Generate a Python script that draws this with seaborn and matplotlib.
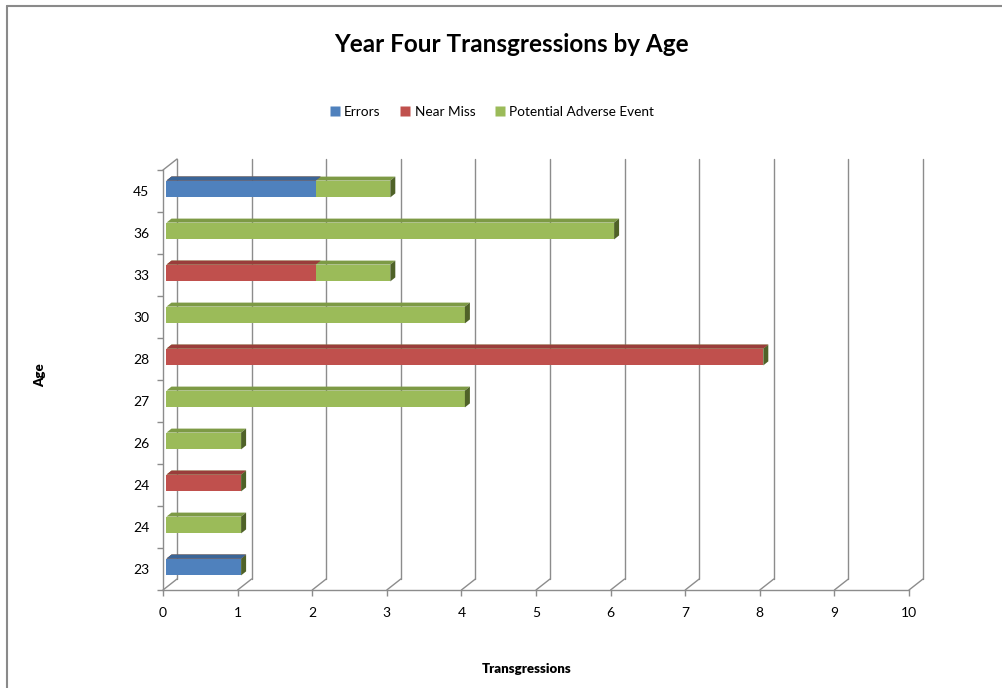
import numpy as np
import pandas as pd
import matplotlib
matplotlib.use("Agg")
import matplotlib.pyplot as plt
import seaborn as sns
from matplotlib.patches import Polygon
from matplotlib.lines import Line2D

# ---------------- data (top to bottom as displayed) ----------------
ages = ["45", "36", "33", "30", "28", "27", "26", "24", "24", "23"]
errors = [2, 0, 0, 0, 0, 0, 0, 0, 0, 1]
near_miss = [0, 0, 2, 0, 8, 0, 0, 1, 0, 0]
potential_adverse = [1, 6, 1, 4, 0, 4, 1, 0, 1, 0]
series_names = ["Errors", "Near Miss", "Potential Adverse Event"]
x_ticks = list(range(0, 11))

title = "Year Four Transgressions by Age"
x_label = "Transgressions"
y_label = "Age"

# ---------------- style ----------------
c_err, c_near, c_pae = "#4F81BD", "#C0504D", "#9BBB59"
top_err, top_near, top_pae = "#3B6597", "#9A3D3B", "#7D9A45"
side_col = "#4F6228"
grid_col = "#8C8C8C"

sns.set_style("white")
plt.rcParams["font.family"] = ["Lato", "DejaVu Sans"]
plt.rcParams["text.color"] = "black"
plt.rcParams["xtick.color"] = "black"
plt.rcParams["ytick.color"] = "black"

W, H = 1003, 688
fig = plt.figure(figsize=(W / 100, H / 100), dpi=100)
ax = fig.add_axes([163 / W, 1 - 590 / H, 746 / W, 420 / H])

rows = [f"r{i}" for i in range(len(ages))]
df = pd.DataFrame({
    "row": rows,
    "e": np.array(errors, float),
    "en": np.array(errors, float) + np.array(near_miss, float),
    "total": np.array(errors, float) + np.array(near_miss, float) + np.array(potential_adverse, float),
})

layers = []
for col, color, topc in [("total", c_pae, top_pae), ("en", c_near, top_near), ("e", c_err, top_err)]:
    n0 = len(ax.patches)
    sns.barplot(data=df, y="row", x=col, order=rows, color=color, saturation=1,
                width=0.4, errorbar=None, orient="h", linewidth=0, ax=ax)
    layers.append((ax.patches[n0:], color, topc, col == "total"))

ax.set_xlim(0, 10)
ax.set_ylim(len(ages) - 0.5, -0.5)
ax.set_xticks(x_ticks)
ax.set_xticklabels([str(t) for t in x_ticks])
ax.set_yticks(range(len(ages)))
ax.set_yticklabels(ages)
ax.set_yticks(np.arange(-0.5, len(ages), 1.0), minor=True)
ax.set_xlabel("")
ax.set_ylabel("")
ax.tick_params(axis="y", which="major", length=0, pad=10, labelsize=10, labelcolor="black")
ax.tick_params(axis="y", which="minor", length=4, width=1, color=grid_col, left=True)
ax.tick_params(axis="x", which="major", length=4.5, width=1, color=grid_col, pad=8,
               labelsize=10, labelcolor="black", bottom=True, direction="out")
for s in ["top", "right"]:
    ax.spines[s].set_visible(False)
for s in ["left", "bottom"]:
    ax.spines[s].set_color(grid_col)
    ax.spines[s].set_linewidth(1)
ax.patch.set_alpha(0)

# ---------------- pseudo-3D walls ----------------
wdx, wdy = 14, 11  # wall depth in pixels
bdx, bdy = 5, 4    # bar depth in pixels
sdx, sdy = 3.5, 2  # bar shift to mid-depth

def disp(x, y):
    return ax.transData.transform((x, y))

ybot, ytop = ax.get_ylim()
for xv in x_ticks:
    fx, fy = disp(xv, ybot)
    tx, ty = disp(xv, ytop)
    fig.add_artist(Line2D([fx, fx + wdx], [fy, fy + wdy], transform=None, color=grid_col, lw=1, zorder=0))
    fig.add_artist(Line2D([fx + wdx, tx + wdx], [fy + wdy, ty + wdy], transform=None, color=grid_col, lw=1, zorder=0))
lx, ly = disp(0, ytop)
fig.add_artist(Line2D([lx, lx + wdx], [ly, ly + wdy], transform=None, color=grid_col, lw=1, zorder=0))

# ---------------- bar faces ----------------
for patches, color, topc, is_total in layers:
    for p in patches:
        w = p.get_width()
        if not np.isfinite(w) or w <= 0:
            p.set_visible(False)
            continue
        x0, y0, h = p.get_x(), p.get_y(), p.get_height()
        (ax0, ay_top) = disp(x0, y0)          # visual top-left (y axis inverted)
        (ax1, ay_bot) = disp(x0 + w, y0 + h)  # visual bottom-right
        ax0 += sdx; ax1 += sdx; ay_top += sdy; ay_bot += sdy
        z = p.get_zorder()
        front = Polygon([[ax0, ay_bot], [ax1, ay_bot], [ax1, ay_top], [ax0, ay_top]],
                        closed=True, transform=None, facecolor=color, edgecolor="none", zorder=z)
        top = Polygon([[ax0, ay_top], [ax1, ay_top], [ax1 + bdx, ay_top + bdy], [ax0 + bdx, ay_top + bdy]],
                      closed=True, transform=None, facecolor=topc, edgecolor="none", zorder=z)
        fig.add_artist(front)
        fig.add_artist(top)
        if is_total:
            side = Polygon([[ax1, ay_bot], [ax1 + bdx, ay_bot + bdy], [ax1 + bdx, ay_top + bdy], [ax1, ay_top]],
                           closed=True, transform=None, facecolor=side_col, edgecolor="none", zorder=z)
            fig.add_artist(side)
        p.set_visible(False)

# ---------------- texts ----------------
fig.text(511 / W, 1 - 44 / H, title, ha="center", va="center", fontsize=17.5, fontweight="bold", color="black")
fig.text(40 / W, 1 - 375 / H, y_label, ha="center", va="center", rotation=90, fontsize=9.5,
         fontweight="heavy", color="black")
fig.text(527 / W, 1 - 669 / H, x_label, ha="center", va="center", fontsize=9.5, fontweight="heavy",
         color="black")

handles = [Line2D([], [], marker="s", linestyle="none", markersize=6.5, markerfacecolor=c, markeredgecolor="none")
           for c in (c_err, c_near, c_pae)]
fig.legend(handles, series_names, loc="center", bbox_to_anchor=(491 / W, 1 - 112 / H), ncol=3,
           frameon=False, fontsize=9.8, handletextpad=0.2, columnspacing=1.3, handlelength=1.0)

# ---------------- chart border ----------------
bx, by = 7 / W, 1 - 6 / H
fig.add_artist(Line2D([bx, bx], [0, by], transform=fig.transFigure, color="#8A8A8A", lw=1.5))
fig.add_artist(Line2D([bx, 1], [by, by], transform=fig.transFigure, color="#8A8A8A", lw=1.5))

fig.savefig("out.png", dpi=100)
